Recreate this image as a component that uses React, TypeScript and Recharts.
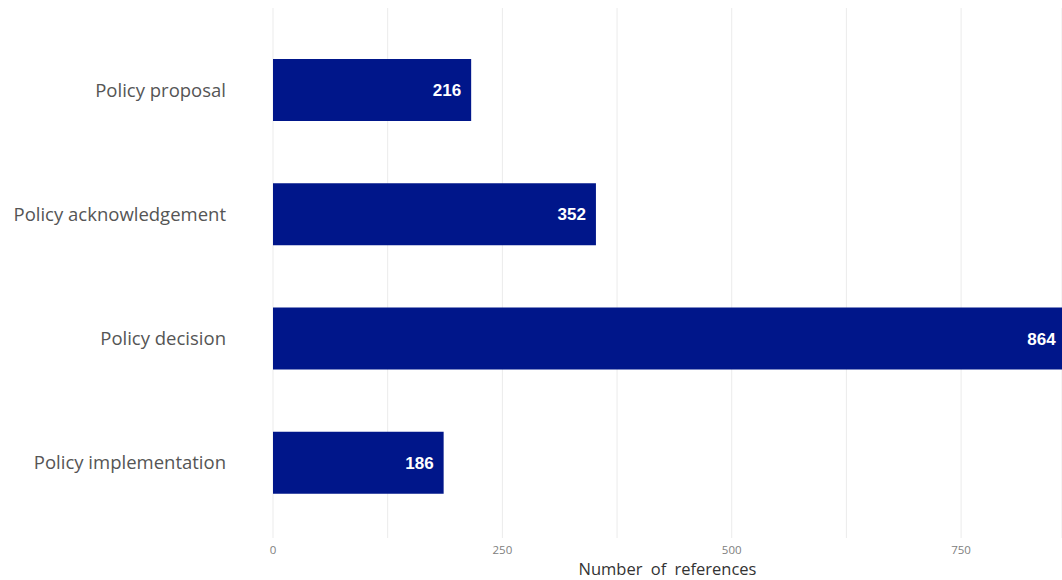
import React from "react";
import { BarChart, Bar, XAxis, YAxis, CartesianGrid, LabelList, Label } from "recharts";

const categories = ["Policy proposal", "Policy acknowledgement", "Policy decision", "Policy implementation"];
const references = [216, 352, 864, 186];
const xTicks = [0, 125, 250, 375, 500, 625, 750];
const xLabelTicks = [0, 250, 500, 750];

const data = categories.map((c, i) => ({ category: c, value: references[i] }));

export default function App() {
  return (
    <div style={{ position: "absolute", left: 0, top: 0, width: 1062, height: 580, background: "#fff" }}>
      <BarChart
        width={1062}
        height={580}
        data={data}
        layout="vertical"
        margin={{ top: 8, right: 0, bottom: 12, left: 0 }}
        barCategoryGap="25%"
      >
        <CartesianGrid horizontal={false} stroke="#ebebeb" strokeWidth={1} />
        <XAxis
          type="number"
          domain={[0, 860]}
          allowDataOverflow
          ticks={xTicks}
          tickFormatter={(v: number) => (xLabelTicks.includes(v) ? String(v) : "")}
          axisLine={false}
          tickLine={false}
          tickMargin={2}
          height={30}
          tick={{ fill: "#808080", fontSize: 11.5, fontFamily: "Open Sans" }}
        >
          <Label
            value="Number of references"
            position="insideBottom"
            offset={-7}
            style={{ fill: "#333", fontSize: 16.5, fontFamily: "Open Sans", wordSpacing: 4 }}
          />
        </XAxis>
        <YAxis
          type="category"
          dataKey="category"
          width={273}
          axisLine={false}
          tickLine={false}
          tickSize={0}
          tickMargin={47}
          padding={{ top: 20, bottom: 13 }}
          tick={{ fill: "#555", fontSize: 18.5, fontFamily: "Open Sans" }}
        />
        <Bar dataKey="value" fill="#00168A" isAnimationActive={false}>
          <LabelList
            dataKey="value"
            position="insideRight"
            offset={10}
            style={{ fill: "#fff", fontSize: 17, fontWeight: "bold", fontFamily: "Liberation Sans" }}
          />
        </Bar>
      </BarChart>
    </div>
  );
}
